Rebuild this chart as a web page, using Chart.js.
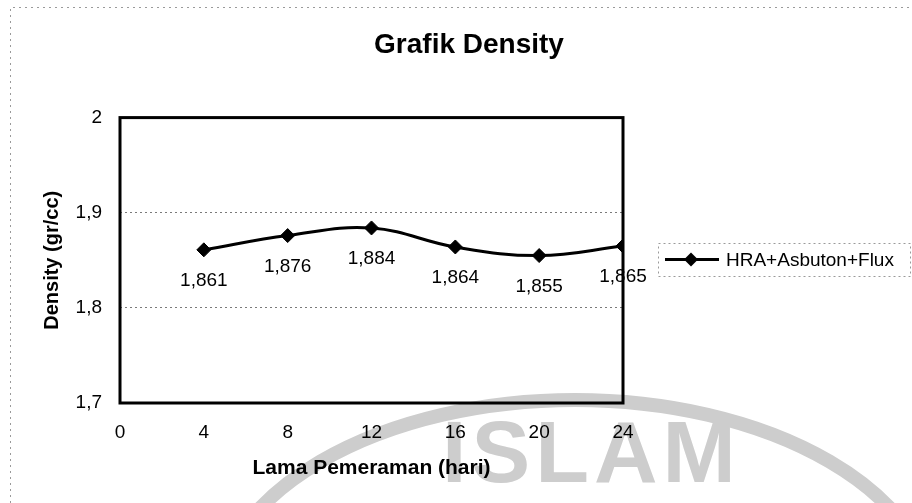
<!DOCTYPE html>
<html>
<head>
<meta charset="utf-8">
<script src="https://cdn.jsdelivr.net/npm/chart.js@4.4.1/dist/chart.umd.min.js"></script>
<style>
  html, body { margin: 0; padding: 0; background: #fff; }
  #wrap { width: 912px; height: 503px; }
</style>
</head>
<body>
<div id="wrap"><canvas id="c" width="912" height="503"></canvas></div>
<script>
// ---- data ----
const days = [4, 8, 12, 16, 20, 24];
const density = [1.861, 1.876, 1.884, 1.864, 1.855, 1.865];
const seriesName = 'HRA+Asbuton+Flux';
const chartTitle = 'Grafik Density';
const xTitle = 'Lama Pemeraman (hari)';
const yTitle = 'Density (gr/cc)';
const watermarkText = 'ISLAM';

const FONT = "'Liberation Sans', Arial, sans-serif";
const fmt = (v, d) => v.toFixed(d).replace('.', ',');

const bgPlugin = {
  id: 'bg',
  beforeDraw(chart) {
    const ctx = chart.ctx;
    ctx.save();
    ctx.fillStyle = '#fff';
    ctx.fillRect(0, 0, chart.width, chart.height);
    // scanned watermark
    ctx.strokeStyle = '#cdcdcd';
    ctx.lineWidth = 14;
    ctx.beginPath();
    ctx.ellipse(575, 610, 360, 210, 0, Math.PI, 2 * Math.PI);
    ctx.stroke();
    ctx.fillStyle = '#cdcdcd';
    ctx.font = 'bold 88px ' + FONT;
    ctx.textBaseline = 'alphabetic';
    ctx.textAlign = 'left';
    try { ctx.letterSpacing = '5px'; } catch (e) {}
    ctx.fillText(watermarkText, 442, 482);
    try { ctx.letterSpacing = '0px'; } catch (e) {}
    // page border (dotted)
    ctx.strokeStyle = '#9a9a9a';
    ctx.lineWidth = 1;
    ctx.setLineDash([2, 4]);
    ctx.beginPath();
    ctx.moveTo(10.5, 503);
    ctx.lineTo(10.5, 7.5);
    ctx.lineTo(912, 7.5);
    ctx.stroke();
    ctx.restore();
  }
};

const framePlugin = {
  id: 'frame',
  beforeDatasetsDraw(chart) {
    const a = chart.chartArea, ctx = chart.ctx;
    ctx.save();
    ctx.strokeStyle = '#000';
    ctx.lineWidth = 3;
    ctx.strokeRect(a.left, a.top, a.right - a.left, a.bottom - a.top);
    ctx.restore();
  }
};

const labelPlugin = {
  id: 'pointLabels',
  afterDatasetsDraw(chart) {
    const ctx = chart.ctx;
    const meta = chart.getDatasetMeta(0);
    const vals = chart.data.datasets[0].data;
    ctx.save();
    ctx.fillStyle = '#000';
    ctx.font = '19px ' + FONT;
    ctx.textAlign = 'center';
    ctx.textBaseline = 'middle';
    meta.data.forEach((pt, i) => {
      ctx.fillText(fmt(vals[i].y, 3), pt.x, pt.y + 31);
    });
    ctx.restore();
  }
};

const legendPlugin = {
  id: 'customLegend',
  afterDraw(chart) {
    const ctx = chart.ctx;
    const ds = chart.data.datasets[0];
    const bx = 658, by = 243, bw = 252, bh = 33;
    const cy = by + bh / 2;
    ctx.save();
    ctx.strokeStyle = '#9a9a9a';
    ctx.lineWidth = 1;
    ctx.setLineDash([2, 3]);
    ctx.strokeRect(bx + 0.5, by + 0.5, bw, bh);
    ctx.setLineDash([]);
    ctx.strokeStyle = ds.borderColor;
    ctx.lineWidth = ds.borderWidth;
    ctx.beginPath();
    ctx.moveTo(665, cy);
    ctx.lineTo(719, cy);
    ctx.stroke();
    ctx.fillStyle = ds.pointBackgroundColor;
    const r = ds.pointRadius;
    ctx.beginPath();
    ctx.moveTo(691, cy - r);
    ctx.lineTo(691 + r, cy);
    ctx.lineTo(691, cy + r);
    ctx.lineTo(691 - r, cy);
    ctx.closePath();
    ctx.fill();
    ctx.fillStyle = '#000';
    ctx.font = '19px ' + FONT;
    ctx.textAlign = 'left';
    ctx.textBaseline = 'middle';
    ctx.fillText(ds.label, 726, cy + 1);
    ctx.restore();
  }
};

new Chart(document.getElementById('c'), {
  type: 'line',
  data: {
    datasets: [{
      label: seriesName,
      data: days.map((d, i) => ({ x: d, y: density[i] })),
      yAxisID: 'y',
      borderColor: '#000',
      borderWidth: 3,
      tension: 0.4,
      pointStyle: 'rectRot',
      pointRadius: 7,
      pointHoverRadius: 7,
      pointBackgroundColor: '#000',
      pointBorderColor: '#000',
      pointBorderWidth: 1,
      fill: false
    }]
  },
  options: {
    responsive: false,
    animation: false,
    devicePixelRatio: 1,
    layout: { padding: { left: 26, right: 0, top: 0, bottom: 0 } },
    plugins: {
      legend: { display: false },
      tooltip: { enabled: false },
      title: {
        display: true,
        text: chartTitle,
        color: '#000',
        font: { family: FONT, size: 28, weight: 'bold' },
        padding: { top: 28, bottom: 56 }
      }
    },
    scales: {
      x: {
        type: 'linear',
        min: 0,
        max: 24,
        afterFit(scale) { scale.height = 100; },
        ticks: {
          stepSize: 4,
          color: '#000',
          font: { family: FONT, size: 19 },
          padding: 18,
          maxRotation: 0
        },
        grid: { display: false, drawTicks: false },
        border: { display: false },
        title: {
          display: true,
          text: xTitle,
          color: '#000',
          font: { family: FONT, size: 21, weight: 'bold' },
          padding: { top: 0, bottom: 22 }
        }
      },
      y: {
        min: 1.7,
        max: 2,
        afterFit(scale) { scale.width = 94; },
        ticks: {
          stepSize: 0.1,
          color: '#000',
          font: { family: FONT, size: 19 },
          padding: 18,
          callback: (v) => (Math.round(v * 10) / 10).toString().replace('.', ',')
        },
        grid: {
          drawTicks: false,
          lineWidth: 1,
          color: (c) => (c.tick && c.tick.value > 1.75 && c.tick.value < 1.95) ? '#7a7a7a' : 'rgba(0,0,0,0)'
        },
        border: { display: false, dash: [2, 3] },
        title: {
          display: true,
          text: yTitle,
          color: '#000',
          font: { family: FONT, size: 20, weight: 'bold' },
          padding: { top: 14, bottom: 0 }
        }
      },
      legendSpace: {
        type: 'linear',
        position: 'right',
        display: true,
        afterFit(scale) { scale.width = 289; },
        ticks: { display: false },
        grid: { display: false, drawTicks: false },
        border: { display: false }
      }
    }
  },
  plugins: [bgPlugin, framePlugin, labelPlugin, legendPlugin]
});
</script>
</body>
</html>
